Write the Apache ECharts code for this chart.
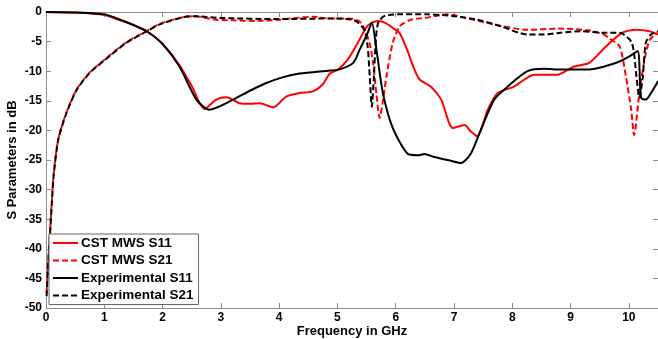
<!DOCTYPE html>
<html><head><meta charset="utf-8">
<script src="https://cdn.jsdelivr.net/npm/echarts@6/dist/echarts.min.js"></script>
<style>html,body{margin:0;padding:0;background:#fff}#c{width:658px;height:339px}</style>
</head><body><div id="c"></div>
<script>
// ---- data ----
var cstS11F = [0, 0.5, 1.0, 1.3, 1.5, 1.73, 2.0, 2.29, 2.5, 2.72, 2.92, 3.10, 3.32, 3.5, 3.67, 3.90, 4.12, 4.35, 4.58, 4.75, 4.87, 5.0, 5.18, 5.35, 5.44, 5.52, 5.61, 5.72, 5.85, 5.98, 6.07, 6.20, 6.30, 6.41, 6.60, 6.78, 6.98, 7.18, 7.29, 7.40, 7.58, 7.75, 8.03, 8.38, 8.77, 9.06, 9.32, 9.61, 9.89, 10.12, 10.35, 10.5];
var cstS11 = [0, -0.1, -0.5, -1.5, -2.2, -3.3, -5.4, -9.0, -12.5, -16.4, -14.8, -14.4, -15.4, -15.5, -15.4, -16.1, -14.3, -13.7, -13.4, -12.2, -10.4, -9.8, -8.0, -5.2, -3.5, -2.3, -1.7, -1.5, -2.0, -2.9, -3.6, -6.5, -9.2, -11.4, -12.6, -14.8, -19.6, -19.1, -20.2, -21.0, -16.5, -13.7, -12.6, -10.6, -10.6, -9.2, -8.6, -5.8, -3.5, -3.0, -3.25, -3.8];

var cstS21F = [0.01, 0.04, 0.07, 0.1, 0.13, 0.21, 0.35, 0.53, 0.75, 1.01, 1.38, 1.73, 1.95, 2.3, 2.52, 2.92, 3.2, 3.6, 4.0, 4.58, 4.87, 5.2, 5.38, 5.47, 5.55, 5.61, 5.67, 5.725, 5.78, 5.84, 5.95, 6.07, 6.26, 6.5, 6.89, 7.2, 7.69, 8.26, 8.8, 9.3, 9.57, 9.67, 9.84, 9.95, 10.04, 10.09, 10.18, 10.27, 10.36, 10.5];
var cstS21 = [-47.5, -42, -37, -32, -27.5, -21.5, -17, -13, -10.2, -8.0, -5.1, -3.2, -2.0, -1.0, -0.7, -1.3, -1.4, -1.5, -1.3, -0.8, -1.1, -1.1, -1.6, -3.0, -5.2, -8.5, -14.0, -17.9, -15.0, -10.9, -5.2, -2.4, -1.3, -1.0, -0.4, -1.0, -2.1, -3.0, -2.8, -3.1, -3.8, -4.5, -5.8, -10.9, -16.5, -20.8, -13.7, -8.0, -4.7, -3.5];

var expS11F = [0, 0.5, 1.01, 1.3, 1.5, 1.73, 2.0, 2.29, 2.58, 2.80, 3.21, 3.5, 3.78, 4.07, 4.35, 4.87, 5.04, 5.27, 5.38, 5.52, 5.59, 5.67, 5.78, 5.95, 6.20, 6.38, 6.49, 6.66, 6.89, 7.12, 7.29, 7.46, 7.69, 7.92, 8.26, 8.55, 8.83, 9.32, 9.78, 10.01, 10.15, 10.21, 10.29, 10.38, 10.5];
var expS11 = [0, -0.1, -0.4, -1.4, -2.2, -3.25, -5.4, -9.2, -14.8, -16.5, -14.8, -13.3, -12.0, -11.0, -10.4, -9.9, -9.7, -8.6, -6.4, -3.5, -1.8, -6.4, -13.7, -19.6, -23.9, -24.2, -24.0, -24.5, -25.0, -25.5, -23.9, -19.9, -14.8, -12.6, -10.0, -9.6, -9.7, -9.7, -8.6, -7.5, -6.6, -14.5, -14.8, -13.7, -11.7];

var expS21F = [0.01, 0.04, 0.07, 0.1, 0.13, 0.21, 0.35, 0.53, 0.75, 1.01, 1.38, 1.73, 1.95, 2.3, 2.52, 3.0, 4.0, 4.87, 5.29, 5.46, 5.52, 5.555, 5.59, 5.625, 5.66, 5.70, 5.80, 6.03, 6.53, 7.0, 7.40, 7.80, 8.26, 8.55, 8.83, 9.17, 9.57, 9.84, 10.05, 10.13, 10.18, 10.24, 10.29, 10.38, 10.5];
var expS21 = [-48, -42, -37.4, -32.3, -27.8, -21.6, -17.1, -13.1, -10.3, -8.1, -5.2, -3.25, -2.1, -1.0, -0.7, -1.0, -1.2, -1.1, -1.4, -3.0, -6.0, -11.0, -16.0, -11.0, -4.5, -1.8, -0.7, -0.4, -0.4, -0.7, -1.3, -2.4, -3.8, -3.8, -3.5, -3.25, -3.5, -3.5, -5.2, -10.9, -14.5, -10.9, -5.2, -3.8, -3.25];

var xTicks = [0, 1, 2, 3, 4, 5, 6, 7, 8, 9, 10];
var yTicks = [-50, -45, -40, -35, -30, -25, -20, -15, -10, -5, 0];

function pairs(f, v) { return f.map(function (x, i) { return [x, v[i]]; }); }

var chart = echarts.init(document.getElementById('c'), null, { renderer: 'canvas' });
var axisGray = '#8c8c8c';
function xAx(pos, show) {
  return {
    type: 'value', position: pos, min: 0, max: 10.5, interval: 1,
    name: show ? 'Frequency in GHz' : '', nameLocation: 'middle', nameGap: 17, nameMoveOverlap: false,
    nameTextStyle: { color: '#000', fontFamily: 'Liberation Sans, Arial', fontWeight: 'bold', fontSize: 13 },
    axisLine: { show: true, onZero: false, lineStyle: { color: axisGray, width: 1 } },
    axisTick: { show: true, inside: true, length: 5, lineStyle: { color: axisGray } },
    axisLabel: { show: show, margin: 4, showMaxLabel: false, color: '#000', fontFamily: 'Liberation Sans, Arial', fontWeight: 'bold', fontSize: 12,
      formatter: function (v) { return xTicks.indexOf(v) >= 0 ? String(v) : ''; } },
    splitLine: { show: false }
  };
}
function yAx(pos, show) {
  return {
    type: 'value', position: pos, min: -50, max: 0, interval: 5,
    name: show ? 'S Parameters in dB' : '', nameLocation: 'middle', nameGap: 27, nameMoveOverlap: false,
    nameTextStyle: { color: '#000', fontFamily: 'Liberation Sans, Arial', fontWeight: 'bold', fontSize: 13 },
    axisLine: { show: true, onZero: false, lineStyle: { color: axisGray, width: 1 } },
    axisTick: { show: true, inside: true, length: 5, lineStyle: { color: axisGray } },
    axisLabel: { show: show, margin: 4, color: '#000', fontFamily: 'Liberation Sans, Arial', fontWeight: 'bold', fontSize: 12,
      formatter: function (v) { return yTicks.indexOf(v) >= 0 ? String(v) : ''; } },
    splitLine: { show: false }
  };
}
function ser(name, data, color, dashed) {
  return {
    name: name, type: 'line', xAxisIndex: 0, yAxisIndex: 0, data: data,
    showSymbol: false, symbol: 'none', smooth: 0.25, animation: false,
    lineStyle: { color: color, width: 2, type: dashed ? [6, 3] : 'solid' },
    itemStyle: { color: color }
  };
}
chart.setOption({
  animation: false,
  backgroundColor: '#fff',
  grid: { left: 46, right: 0, top: 12, bottom: 31, containLabel: false, outerBoundsMode: 'none' },
  xAxis: [xAx('bottom', true), xAx('top', false)],
  yAxis: [yAx('left', true), yAx('right', false)],
  legend: {
    orient: 'vertical', left: 49, top: 234, itemWidth: 25, itemHeight: 14, itemGap: 3.5,
    padding: [2, 5, 2, 3], borderColor: '#666', borderWidth: 1, backgroundColor: '#fff',
    itemStyle: { color: 'rgba(0,0,0,0)', borderWidth: 0, opacity: 0 },
    textStyle: { color: '#000', fontFamily: 'Liberation Sans, Arial', fontWeight: 'bold', fontSize: 13.5, padding: [0, 0, 0, -2] },
    data: ['CST MWS S11', 'CST MWS S21', 'Experimental S11', 'Experimental S21']
  },
  series: [
    ser('CST MWS S11', pairs(cstS11F, cstS11), '#ff0000', false),
    ser('CST MWS S21', pairs(cstS21F, cstS21), '#ff0000', true),
    ser('Experimental S11', pairs(expS11F, expS11), '#000000', false),
    ser('Experimental S21', pairs(expS21F, expS21), '#000000', true)
  ]
});
</script></body></html>
